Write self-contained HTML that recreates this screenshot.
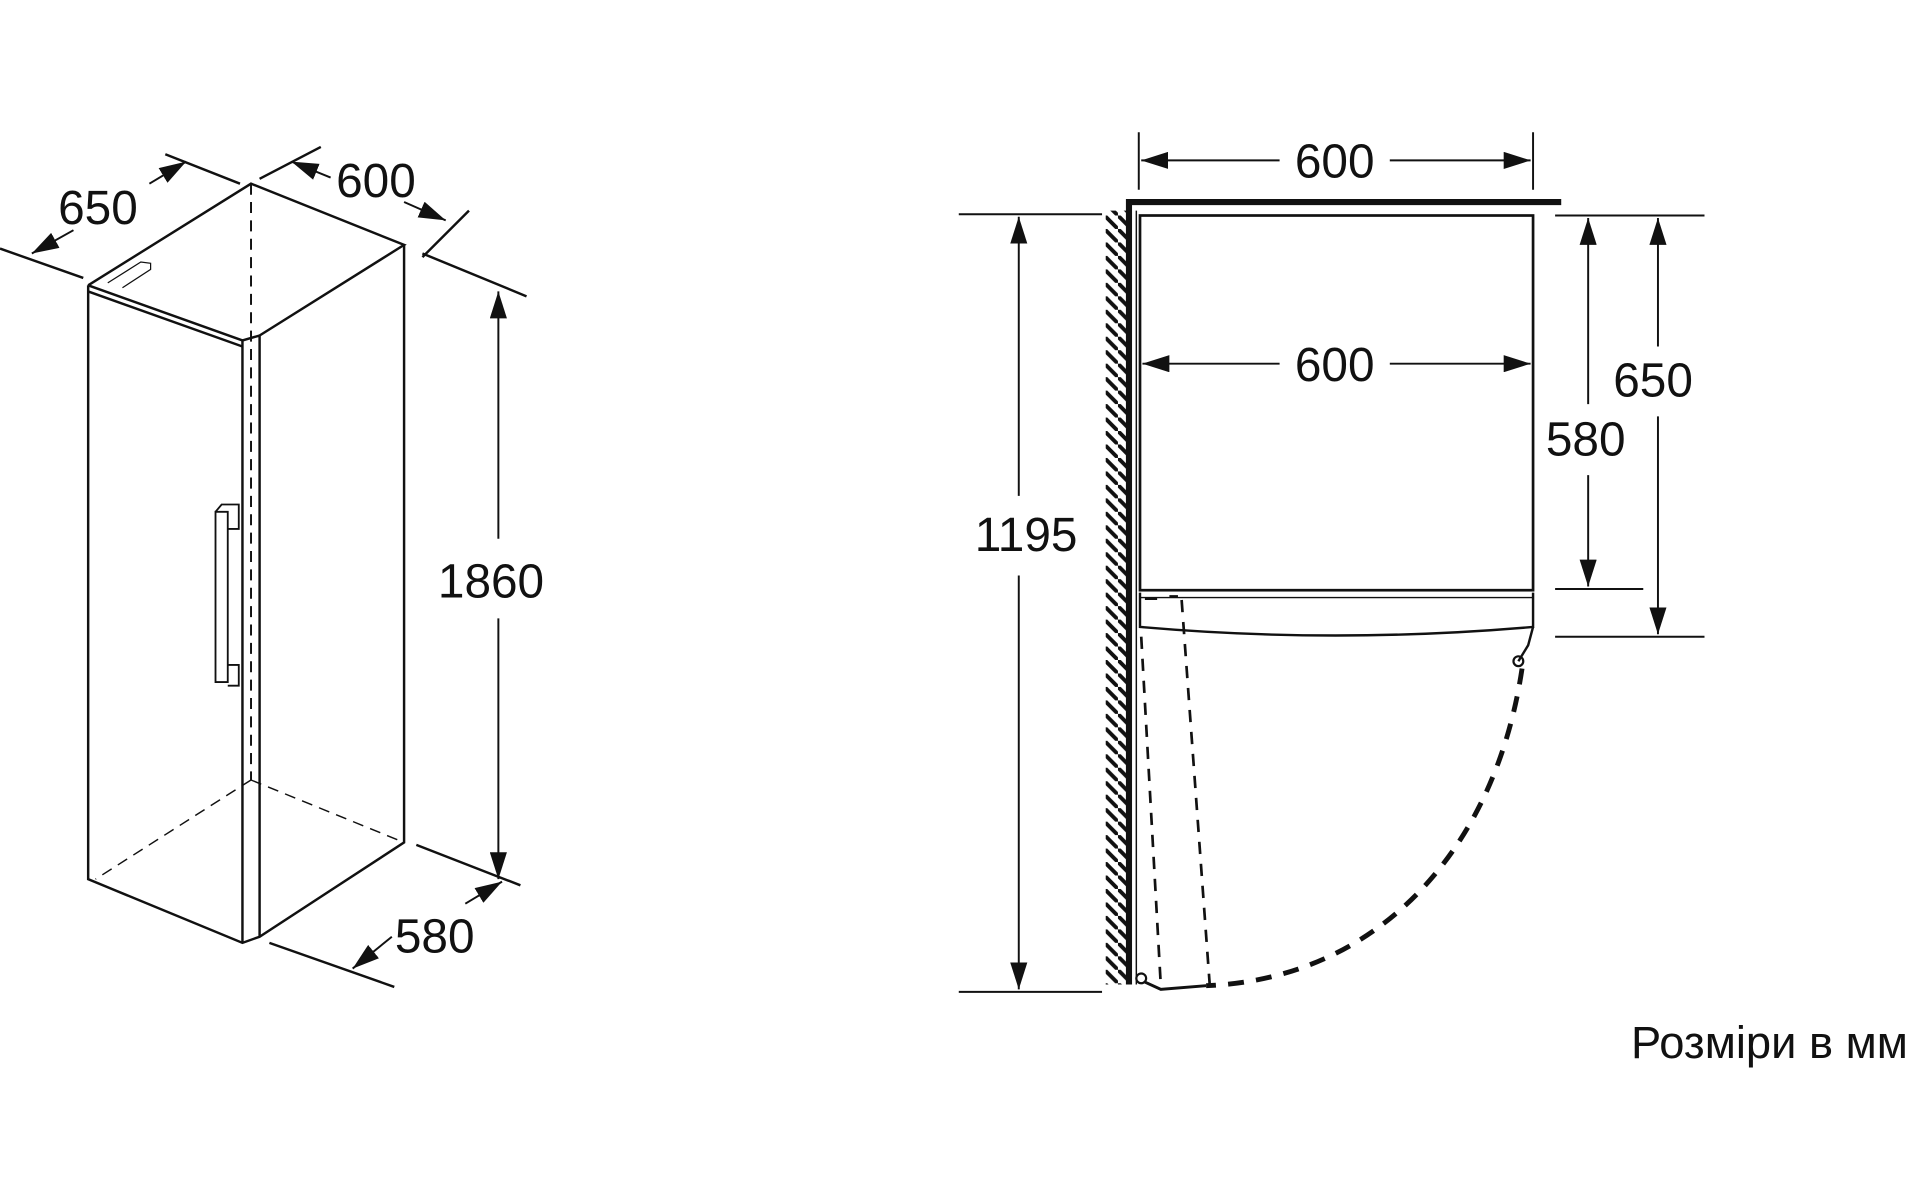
<!DOCTYPE html>
<html><head><meta charset="utf-8"><style>
html,body{margin:0;padding:0;background:#fff;}
svg{display:block;}
text{font-family:"Liberation Sans",sans-serif;fill:#111;}
</style></head><body>
<svg width="1920" height="1200" viewBox="0 0 1568 980" xmlns="http://www.w3.org/2000/svg">
<defs>
<marker id="a" viewBox="0 0 22 14" refX="22" refY="7" markerWidth="22" markerHeight="14" markerUnits="userSpaceOnUse" orient="auto"><path d="M0,0 L22,7 L0,14 Z" fill="#111"/></marker>
<pattern id="h" width="11" height="11" patternUnits="userSpaceOnUse"><path d="M-3,-3 L14,14" stroke="#111" stroke-width="3.2"/></pattern>
</defs>
<g stroke="#111" fill="none" stroke-width="2">
<!-- left cabinet -->
<path d="M72,233 L205,150 L330,200 L212,274"/>
<path d="M72,233 L198,278 L212,274 M72,238 L198,283"/>
<path d="M72,233 L72,718 L198,770 L212,765 L330,688 L330,200"/>
<path d="M198,278 L198,770 M212,274 L212,765"/>
<path d="M88,231 L115,214 L123,215 L123,220 L100,235" stroke-width="1"/>
<path d="M205,150 L205,637" stroke-dasharray="9,6" stroke-width="1.6"/>
<path d="M205,637 L78,718 M205,637 L330,688" stroke-dasharray="9,6" stroke-width="1.2"/>
<!-- handle -->
<path d="M176,418 L176,557 L186,557 L186,418 Z" stroke-width="1.5"/>
<path d="M176,418 L181,412 L195,412 L195,432 L186,432 M186,543 L195,543 L195,560 L186,560" stroke-width="1.5"/>
<!-- 650 -->
<path d="M0,203 L68,227 M135,126 L196,150"/>
<path d="M60,188 L26,207" marker-end="url(#a)" stroke-width="1.6"/>
<path d="M122,150 L152,132" marker-end="url(#a)" stroke-width="1.6"/>
<!-- 600 -->
<path d="M212,146 L262,120 M345,210 L383,172"/>
<path d="M270,145 L238,132" marker-end="url(#a)" stroke-width="1.6"/>
<path d="M330,165 L364,180" marker-end="url(#a)" stroke-width="1.6"/>
<!-- 1860 -->
<path d="M345,207 L430,242 M340,690 L425,723"/>
<path d="M407,440 L407,238" marker-end="url(#a)" stroke-width="1.6"/>
<path d="M407,505 L407,718" marker-end="url(#a)" stroke-width="1.6"/>
<!-- 580 -->
<path d="M220,770 L322,806"/>
<path d="M320,765 L288,791" marker-end="url(#a)" stroke-width="1.6"/>
<path d="M380,738 L410,720" marker-end="url(#a)" stroke-width="1.6"/>

<!-- right figure -->
<rect x="903" y="172" width="17" height="632" fill="url(#h)" stroke="none"/>
<path d="M922,804 L922,165 L1275,165" stroke-width="5"/>
<path d="M928,804 L928,172" stroke-width="1.2"/>
<rect x="931" y="176" width="321" height="306" stroke-width="2.2"/>
<path d="M931,488 L1252,488" stroke-width="1.2"/>
<path d="M931,484 L931,512 Q1090,526 1252,512 L1252,484" stroke-width="2"/>
<path d="M1252,512 L1248,527 L1240,540" stroke-width="2"/>
<circle cx="1240" cy="540" r="4" stroke-width="1.8"/>
<circle cx="932" cy="799" r="4" stroke-width="1.8"/>
<path d="M935,802 L948,808 L985,805" stroke-width="2.4"/>
<path d="M1243,546 C1220,700 1120,800 985,805" stroke-dasharray="13,10" stroke-width="4"/>
<path d="M932,520 L948,805" stroke-dasharray="10,8" stroke-width="2.2"/>
<path d="M965,490 L988,805" stroke-dasharray="10,8" stroke-width="2.2"/>
<path d="M935,489 L945,489 M955,487 L962,487" stroke-width="2"/>
<!-- top 600 -->
<path d="M930,108 L930,155 M1252,108 L1252,155" stroke-width="1.6"/>
<path d="M1045,131 L932,131" marker-end="url(#a)" stroke-width="1.6"/>
<path d="M1135,131 L1250,131" marker-end="url(#a)" stroke-width="1.6"/>
<!-- inner 600 -->
<path d="M1045,297 L933,297" marker-end="url(#a)" stroke-width="1.6"/>
<path d="M1135,297 L1250,297" marker-end="url(#a)" stroke-width="1.6"/>
<!-- 1195 -->
<path d="M783,175 L900,175 M783,810 L900,810" stroke-width="1.6"/>
<path d="M832,405 L832,177" marker-end="url(#a)" stroke-width="1.6"/>
<path d="M832,470 L832,808" marker-end="url(#a)" stroke-width="1.6"/>
<!-- 580/650 -->
<path d="M1270,176 L1392,176 M1270,481 L1342,481 M1270,520 L1392,520" stroke-width="1.6"/>
<path d="M1297,330 L1297,178" marker-end="url(#a)" stroke-width="1.6"/>
<path d="M1297,388 L1297,479" marker-end="url(#a)" stroke-width="1.6"/>
<path d="M1354,283 L1354,178" marker-end="url(#a)" stroke-width="1.6"/>
<path d="M1354,340 L1354,518" marker-end="url(#a)" stroke-width="1.6"/>
</g>
<g font-size="39">
<text x="80" y="183" text-anchor="middle">650</text>
<text x="307" y="161" text-anchor="middle">600</text>
<text x="401" y="488" text-anchor="middle">1860</text>
<text x="355" y="778" text-anchor="middle">580</text>
<text x="1090" y="145" text-anchor="middle">600</text>
<text x="1090" y="311" text-anchor="middle">600</text>
<text x="838" y="450" text-anchor="middle">1195</text>
<text x="1295" y="372" text-anchor="middle">580</text>
<text x="1350" y="324" text-anchor="middle">650</text>
</g>
<text x="1332" y="864" font-size="37">Розміри в мм</text>
</svg>
</body></html>
